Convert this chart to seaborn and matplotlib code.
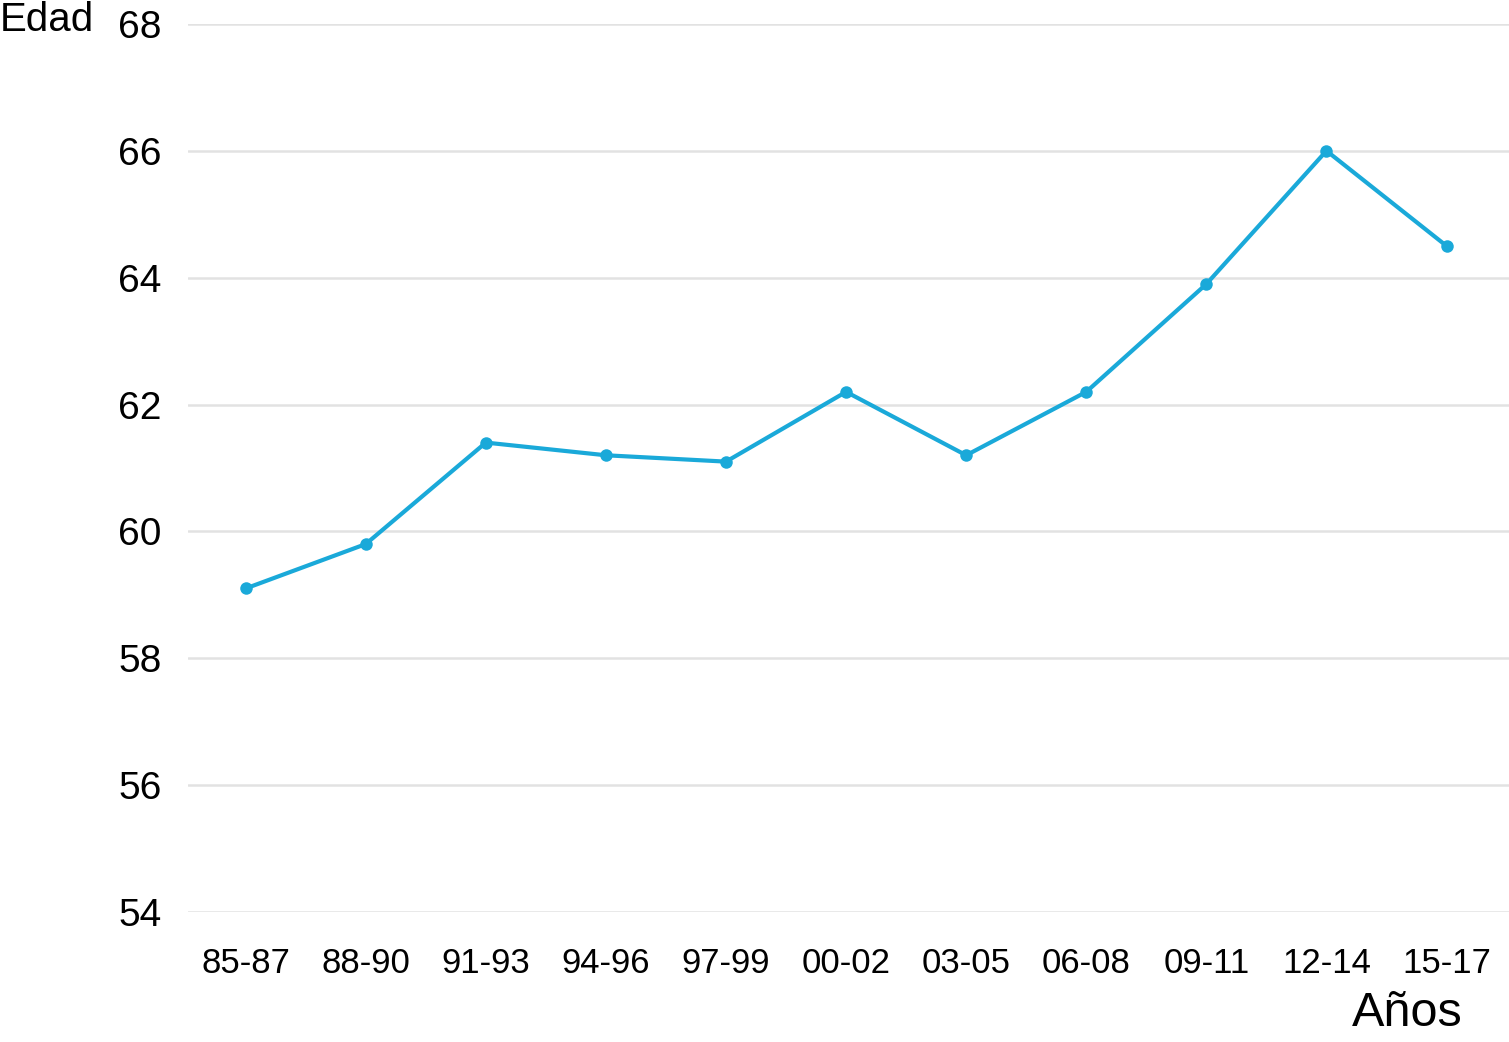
import pandas as pd
import matplotlib.pyplot as plt
import seaborn as sns

# datos
periodos = ['85-87', '88-90', '91-93', '94-96', '97-99', '00-02',
            '03-05', '06-08', '09-11', '12-14', '15-17']
edad = [59.1, 59.8, 61.4, 61.2, 61.1, 62.2, 61.2, 62.2, 63.9, 66.0, 64.5]
y_ticks = [54, 56, 58, 60, 62, 64, 66, 68]

df = pd.DataFrame({'periodo': periodos, 'edad': edad})
df['x'] = range(len(df))

sns.set_theme(style="white")
plt.rcParams['font.family'] = ['Liberation Sans', 'DejaVu Sans']
plt.rcParams['text.color'] = 'black'
plt.rcParams['xtick.color'] = 'black'
plt.rcParams['ytick.color'] = 'black'

fig = plt.figure(figsize=(15.09, 10.42), dpi=100)
ax = fig.add_axes([0.1246, 0.1248, 0.8754, 0.8522])

sns.lineplot(data=df, x='x', y='edad', ax=ax, color='#1aa9d9', linewidth=3,
             marker='o', markersize=9, markeredgewidth=0)

ax.set_xlim(-0.48, 10.52)
ax.set_ylim(54, 68)
ax.set_yticks(y_ticks)
ax.set_yticklabels([str(t) for t in y_ticks], fontsize=28)
ax.set_xticks(df['x'])
ax.set_xticklabels(periodos, fontsize=25)
ax.tick_params(axis='y', length=0, pad=19)
ax.tick_params(axis='x', length=0, pad=25)
ax.yaxis.grid(True, color='#e2e2e2', linewidth=1.8)
ax.set_axisbelow(True)
for s in ax.spines.values():
    s.set_visible(False)
ax.set_xlabel('')
ax.set_ylabel('')

fig.text(0.0, 0.999, 'Edad', fontsize=29, ha='left', va='top')
fig.text(0.969, 0.006, 'Años', fontsize=35, ha='right', va='bottom')

fig.savefig('out.png', dpi=100)
